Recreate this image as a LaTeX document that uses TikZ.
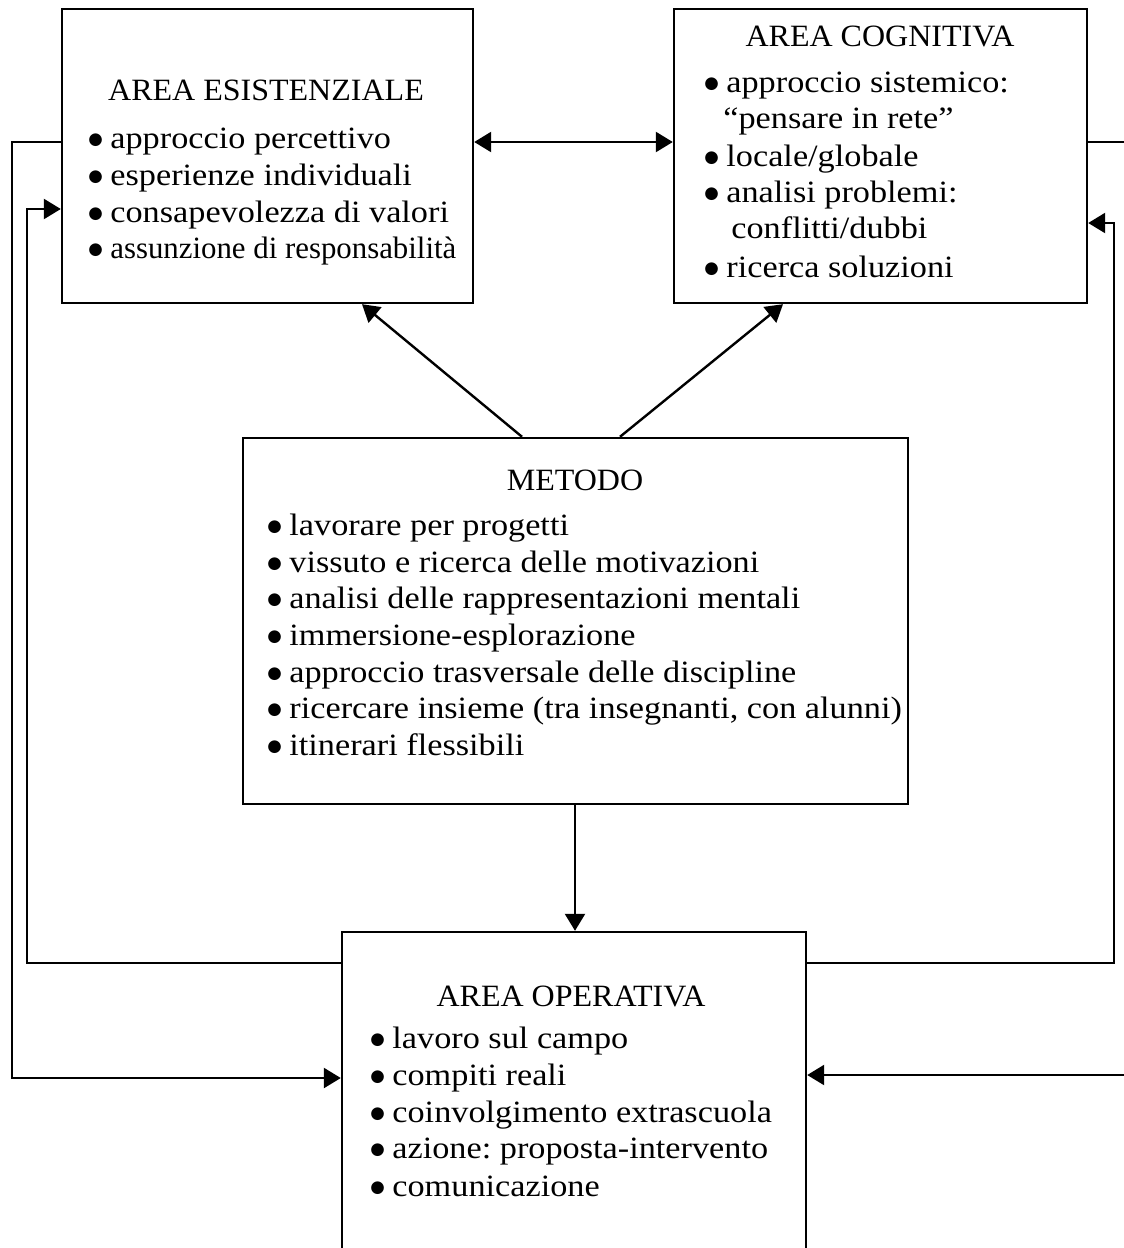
\documentclass[tikz,border=0pt]{standalone}
\usepackage{fontspec}
\setmainfont{Liberation Serif}
\newfontfamily\bodyfont[FakeStretch=1.105]{Liberation Serif}
\newfontfamily\titlefont[FakeStretch=1.033]{Liberation Serif}
\newfontfamily\bulletfont{DejaVu Sans}
\usepackage{graphicx}
\usetikzlibrary{arrows.meta,fit}

% bullet with a fixed indent before the item text
\newcommand\itembul{\makebox[11pt][l]{\raisebox{1.9pt}[0pt][0pt]{\fontsize{8.3}{9}\bulletfont ●}}}

\begin{document}
\frenchspacing
\begin{tikzpicture}[x=0.5pt,y=-0.5pt,
  box/.style={draw, line width=1.2pt, inner sep=0pt},
  txt/.style={anchor=base west, inner sep=0pt, text height=10.5pt, text depth=3pt,
    font=\fontsize{15.5}{17}\bodyfont},
  ttl/.style={anchor=base, inner sep=0pt, text height=10.5pt, text depth=3pt,
    font=\fontsize{15.5}{17}\titlefont},
  conn/.style={line width=1.2pt, -{Triangle[length=8.5pt,width=10pt]}},
  both/.style={line width=1.2pt, {Triangle[length=8.5pt,width=10pt]}-{Triangle[length=8.5pt,width=10pt]}}]
\useasboundingbox (0,0) rectangle (1124,1248);
\clip (0,0) rectangle (1124,1248);

% boxes
\node[box, fit={(62,9)(473,303)}] (ex) {};
\node[box, fit={(674,9)(1087,303)}] (cg) {};
\node[box, fit={(243,438)(908,804)}] (me) {};
\node[box, fit={(342,932)(806,1300)}] (op) {};

% area esistenziale
\node[ttl] (ext) at (266,100) {AREA ESISTENZIALE};
\node[txt] (ex1) at (88,148) {\itembul approccio percettivo};
\node[txt] (ex2) at (88,185) {\itembul esperienze individuali};
\node[txt] (ex3) at (88,222) {\itembul consapevolezza di valori};
\node[txt] (ex4) at (88,258) {\itembul\scalebox{0.9}[1]{assunzione di responsabilità}};

% area cognitiva
\node[ttl] (cgt) at (880,46) {AREA COGNITIVA};
\node[txt] (cg1) at (704,92) {\itembul approccio sistemico:};
\node[txt] (cg2) at (723,128) {“pensare in rete”};
\node[txt] (cg3) at (704,166) {\itembul locale/globale};
\node[txt] (cg4) at (704,202) {\itembul analisi problemi:};
\node[txt] (cg5) at (731,238) {conflitti/dubbi};
\node[txt] (cg6) at (704,277) {\itembul ricerca soluzioni};

% metodo
\node[ttl] (met) at (575,490) {METODO};
\node[txt] (me1) at (267,535) {\itembul lavorare per progetti};
\node[txt] (me2) at (267,572) {\itembul vissuto e ricerca delle motivazioni};
\node[txt] (me3) at (267,608) {\itembul analisi delle rappresentazioni mentali};
\node[txt] (me4) at (267,645) {\itembul immersione-esplorazione};
\node[txt] (me5) at (267,682) {\itembul approccio trasversale delle discipline};
\node[txt] (me6) at (267,718) {\itembul ricercare insieme (tra insegnanti, con alunni)};
\node[txt] (me7) at (267,755) {\itembul itinerari flessibili};

% area operativa
\node[ttl] (opt) at (571,1006) {AREA OPERATIVA};
\node[txt] (op1) at (370,1048) {\itembul lavoro sul campo};
\node[txt] (op2) at (370,1085) {\itembul compiti reali};
\node[txt] (op3) at (370,1122) {\itembul coinvolgimento extrascuola};
\node[txt] (op4) at (370,1158) {\itembul azione: proposta-intervento};
\node[txt] (op5) at (370,1196) {\itembul comunicazione};

% connectors
\draw[both] (ex.east |- 0,142) -- (cg.west |- 0,142);
\draw[conn] (me.north -| 522,0) -- (ex.south -| 362,0);
\draw[conn] (me.north -| 620,0) -- (cg.south -| 783,0);
\draw[conn] (me.south -| 575,0) -- (op.north -| 575,0);
\draw[conn] (ex.west |- 0,142) -| (12,1078) -- (op.west |- 0,1078);
\draw[conn] (op.west |- 0,963) -| (27,209) -- (ex.west |- 0,209);
\draw[conn] (cg.east |- 0,142) -| (1140,1075) -- (op.east |- 0,1075);
\draw[conn] (op.east |- 0,963) -| (1114,223) -- (cg.east |- 0,223);
\end{tikzpicture}
\end{document}
